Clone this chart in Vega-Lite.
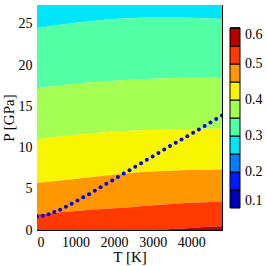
{
  "$schema": "https://vega.github.io/schema/vega-lite/v6.json",
  "width": 185,
  "height": 225,
  "autosize": "none",
  "padding": {"left": 37, "top": 5, "right": 44, "bottom": 36},
  "config": {
    "font": "Liberation Serif",
    "view": {"stroke": "black", "strokeWidth": 1},
    "axis": {
      "grid": false,
      "domain": false,
      "ticks": true,
      "tickSize": -6,
      "tickColor": "black",
      "tickWidth": 1,
      "labelFontSize": 14,
      "labelColor": "black",
      "labelPadding": 11,
      "titleFontSize": 15,
      "titleColor": "black",
      "titleFontWeight": "normal"
    }
  },
  "datasets": {
    "bands": [
      {"T":0,"lo":24.5,"hi":27.3,"lev":0.275},{"T":500,"lo":24.85,"hi":27.3,"lev":0.275},{"T":1000,"lo":25.15,"hi":27.3,"lev":0.275},{"T":1500,"lo":25.4,"hi":27.3,"lev":0.275},{"T":2000,"lo":25.6,"hi":27.3,"lev":0.275},{"T":2500,"lo":25.7,"hi":27.3,"lev":0.275},{"T":3000,"lo":25.8,"hi":27.3,"lev":0.275},{"T":3500,"lo":25.8,"hi":27.3,"lev":0.275},{"T":4000,"lo":25.75,"hi":27.3,"lev":0.275},{"T":4500,"lo":25.65,"hi":27.3,"lev":0.275},{"T":4800,"lo":25.6,"hi":27.3,"lev":0.275},
      {"T":0,"lo":17.2,"hi":24.5,"lev":0.325},{"T":500,"lo":17.5,"hi":24.85,"lev":0.325},{"T":1000,"lo":17.75,"hi":25.15,"lev":0.325},{"T":1500,"lo":17.95,"hi":25.4,"lev":0.325},{"T":2000,"lo":18.1,"hi":25.6,"lev":0.325},{"T":2500,"lo":18.25,"hi":25.7,"lev":0.325},{"T":3000,"lo":18.35,"hi":25.8,"lev":0.325},{"T":3500,"lo":18.45,"hi":25.8,"lev":0.325},{"T":4000,"lo":18.5,"hi":25.75,"lev":0.325},{"T":4500,"lo":18.53,"hi":25.65,"lev":0.325},{"T":4800,"lo":18.55,"hi":25.6,"lev":0.325},
      {"T":0,"lo":10.95,"hi":17.2,"lev":0.375},{"T":500,"lo":11.3,"hi":17.5,"lev":0.375},{"T":1000,"lo":11.55,"hi":17.75,"lev":0.375},{"T":1500,"lo":11.75,"hi":17.95,"lev":0.375},{"T":2000,"lo":11.95,"hi":18.1,"lev":0.375},{"T":2500,"lo":12.05,"hi":18.25,"lev":0.375},{"T":3000,"lo":12.15,"hi":18.35,"lev":0.375},{"T":3500,"lo":12.2,"hi":18.45,"lev":0.375},{"T":4000,"lo":12.25,"hi":18.5,"lev":0.375},{"T":4500,"lo":12.28,"hi":18.53,"lev":0.375},{"T":4800,"lo":12.3,"hi":18.55,"lev":0.375},
      {"T":0,"lo":5.7,"hi":10.95,"lev":0.425},{"T":500,"lo":5.95,"hi":11.3,"lev":0.425},{"T":1000,"lo":6.2,"hi":11.55,"lev":0.425},{"T":1500,"lo":6.45,"hi":11.75,"lev":0.425},{"T":2000,"lo":6.7,"hi":11.95,"lev":0.425},{"T":2500,"lo":6.95,"hi":12.05,"lev":0.425},{"T":3000,"lo":7.1,"hi":12.15,"lev":0.425},{"T":3500,"lo":7.2,"hi":12.2,"lev":0.425},{"T":4000,"lo":7.27,"hi":12.25,"lev":0.425},{"T":4500,"lo":7.31,"hi":12.28,"lev":0.425},{"T":4800,"lo":7.33,"hi":12.3,"lev":0.425},
      {"T":0,"lo":1.9,"hi":5.7,"lev":0.475},{"T":500,"lo":2.1,"hi":5.95,"lev":0.475},{"T":1000,"lo":2.3,"hi":6.2,"lev":0.475},{"T":1500,"lo":2.5,"hi":6.45,"lev":0.475},{"T":2000,"lo":2.65,"hi":6.7,"lev":0.475},{"T":2500,"lo":2.8,"hi":6.95,"lev":0.475},{"T":3000,"lo":3.0,"hi":7.1,"lev":0.475},{"T":3500,"lo":3.15,"hi":7.2,"lev":0.475},{"T":4000,"lo":3.3,"hi":7.27,"lev":0.475},{"T":4500,"lo":3.4,"hi":7.31,"lev":0.475},{"T":4800,"lo":3.45,"hi":7.33,"lev":0.475},
      {"T":0,"lo":0,"hi":1.9,"lev":0.525},{"T":500,"lo":0,"hi":2.1,"lev":0.525},{"T":1000,"lo":0,"hi":2.3,"lev":0.525},{"T":1500,"lo":0,"hi":2.5,"lev":0.525},{"T":2000,"lo":0,"hi":2.65,"lev":0.525},{"T":2500,"lo":0,"hi":2.8,"lev":0.525},{"T":3000,"lo":0,"hi":3.0,"lev":0.525},{"T":3100,"lo":0,"hi":3.03,"lev":0.525},{"T":3500,"lo":0.12,"hi":3.15,"lev":0.525},{"T":4000,"lo":0.25,"hi":3.3,"lev":0.525},{"T":4500,"lo":0.38,"hi":3.4,"lev":0.525},{"T":4800,"lo":0.45,"hi":3.45,"lev":0.525},
      {"T":3100,"lo":0,"hi":0,"lev":0.575},{"T":3500,"lo":0,"hi":0.12,"lev":0.575},{"T":4000,"lo":0,"hi":0.25,"lev":0.575},{"T":4500,"lo":0,"hi":0.38,"lev":0.575},{"T":4800,"lo":0,"hi":0.45,"lev":0.575}
    ],
    "line": [
      {"T":0,"P":1.64},{"T":150,"P":1.74},{"T":300,"P":1.91},{"T":450,"P":2.17},{"T":600,"P":2.46},{"T":750,"P":2.81},{"T":900,"P":3.2},{"T":1050,"P":3.58},{"T":1200,"P":3.96},{"T":1350,"P":4.35},{"T":1500,"P":4.76},{"T":1650,"P":5.19},{"T":1800,"P":5.61},{"T":1950,"P":6.01},{"T":2100,"P":6.44},{"T":2250,"P":6.85},{"T":2400,"P":7.26},{"T":2550,"P":7.67},{"T":2700,"P":8.1},{"T":2850,"P":8.52},{"T":3000,"P":8.93},{"T":3150,"P":9.33},{"T":3300,"P":9.76},{"T":3450,"P":10.18},{"T":3600,"P":10.59},{"T":3750,"P":10.98},{"T":3900,"P":11.39},{"T":4050,"P":11.81},{"T":4200,"P":12.2},{"T":4350,"P":12.62},{"T":4500,"P":13.05},{"T":4650,"P":13.47},{"T":4800,"P":13.88}
    ]
  },
  "layer": [
    {
      "data": {"name": "bands"},
      "mark": {"type": "area", "interpolate": "monotone", "clip": true},
      "encoding": {
        "x": {"field": "T", "type": "quantitative", "scale": {"domain": [0, 4800], "nice": false, "zero": false},
              "axis": {"orient": "bottom", "values": [0, 1000, 2000, 3000, 4000], "format": "d", "title": "T [K]", "titlePadding": 0}},
        "y": {"field": "lo", "type": "quantitative", "scale": {"domain": [0, 27.3], "nice": false},
              "axis": {"orient": "left", "values": [0, 5, 10, 15, 20, 25], "title": "P [GPa]", "titlePadding": 2}},
        "y2": {"field": "hi"},
        "detail": {"field": "lev", "type": "nominal"},
        "color": {"field": "lev", "type": "quantitative",
                  "scale": {"type": "quantize", "domain": [0.1, 0.6],
                            "range": ["#0000b9", "#001aff", "#0080ff", "#00e5f7", "#52ffa4", "#a4ff52", "#f7f500", "#ff9700", "#ff3900", "#b90000"]},
                  "legend": {"type": "gradient", "orient": "none", "legendX": 193, "legendY": 23, "direction": "vertical",
                             "title": null, "gradientLength": 180, "gradientThickness": 10,
                             "gradientStrokeColor": "black", "gradientStrokeWidth": 1,
                             "values": [0.1, 0.15, 0.2, 0.25, 0.3, 0.35, 0.4, 0.45, 0.5, 0.55, 0.6],
                             "labelFontSize": 14, "labelColor": "black", "labelOffset": 5, "labelOverlap": false,
                             "labelBaseline": "middle",
                             "labelExpr": "abs(datum.value*10 - round(datum.value*10)) < 0.01 ? format(datum.value, '.1f') : ''"}}
      }
    },
    {
      "data": {"name": "line"},
      "mark": {"type": "circle", "size": 16, "color": "#0000ff", "opacity": 1, "clip": true},
      "encoding": {
        "x": {"field": "T", "type": "quantitative", "scale": {"domain": [0, 4800], "nice": false, "zero": false},
              "axis": {"orient": "top", "values": [0, 1000, 2000, 3000, 4000], "labels": false, "title": null}},
        "y": {"field": "P", "type": "quantitative", "scale": {"domain": [0, 27.3], "nice": false},
              "axis": {"orient": "right", "values": [0, 5, 10, 15, 20, 25], "labels": false, "title": null}}
      }
    }
  ],
  "resolve": {"axis": {"x": "independent", "y": "independent"}}
}
